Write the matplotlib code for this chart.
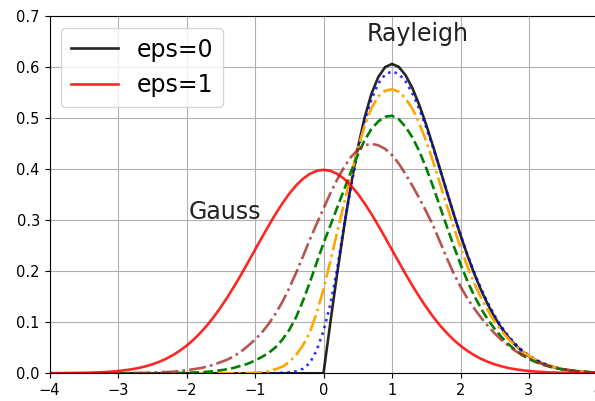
import matplotlib
matplotlib.use('Agg')
import numpy as np
import matplotlib.pyplot as plt

# sample positions along x (step 0.1)
x = np.linspace(-4, 4, 81)

# values
# Rayleigh (eps=0): zero for x<0, values for x = 0.0 .. 4.0
rayleigh = [0.0] * 40 + [
    0.0, 0.0995, 0.196, 0.2868, 0.3692, 0.4412, 0.5012, 0.5479, 0.5809, 0.6003,
    0.6065, 0.6007, 0.5841, 0.5585, 0.5254, 0.487, 0.4448, 0.4007, 0.3562, 0.3125,
    0.2707, 0.2316, 0.1956, 0.1633, 0.1347, 0.1098, 0.0885, 0.0705, 0.0555, 0.0433,
    0.0333, 0.0254, 0.0191, 0.0143, 0.0105, 0.0077, 0.0055, 0.0039, 0.0028, 0.0019,
    0.0013]

# Gauss (eps=1): symmetric, read for x = 0.0 .. 4.0
gauss_half = [
    0.3989, 0.397, 0.391, 0.3814, 0.3683, 0.3521, 0.3332, 0.3123, 0.2897, 0.2661,
    0.242, 0.2179, 0.1942, 0.1714, 0.1497, 0.1295, 0.1109, 0.094, 0.079, 0.0656,
    0.054, 0.044, 0.0355, 0.0283, 0.0224, 0.0175, 0.0136, 0.0104, 0.0079, 0.006,
    0.0044, 0.0033, 0.0024, 0.0017, 0.0012, 0.0009, 0.0006, 0.0004, 0.0003, 0.0002,
    0.0001]
gauss = gauss_half[:0:-1] + gauss_half

# blue dotted, x = -0.6 .. 4.0
blue = [0.0] * 34 + [
    0.001, 0.002, 0.004, 0.009, 0.02, 0.045,
    0.083, 0.135, 0.205, 0.29, 0.365, 0.435, 0.492, 0.537, 0.568, 0.586,
    0.592, 0.587, 0.572, 0.548, 0.518, 0.482, 0.442, 0.4, 0.356, 0.313,
    0.272, 0.233, 0.198, 0.166, 0.138, 0.113, 0.091, 0.073, 0.058, 0.045,
    0.035, 0.027, 0.02, 0.015, 0.011, 0.008, 0.006, 0.004, 0.003, 0.002,
    0.0015]

# orange dash-dot, x = -1.1 .. 4.0
orange = [0.0] * 29 + [
    0.0005, 0.001, 0.002, 0.004, 0.008, 0.013, 0.022, 0.036, 0.055, 0.08, 0.118,
    0.165, 0.22, 0.277, 0.333, 0.388, 0.44, 0.485, 0.52, 0.543, 0.554,
    0.557, 0.552, 0.539, 0.518, 0.49, 0.455, 0.415, 0.372, 0.329, 0.287,
    0.247, 0.21, 0.177, 0.148, 0.123, 0.101, 0.083, 0.067, 0.054, 0.043,
    0.034, 0.026, 0.02, 0.015, 0.011, 0.008, 0.006, 0.004, 0.003, 0.002,
    0.0015]

# green dashed, x = -2.2 .. 4.0
green = [0.0] * 18 + [
    0.0005, 0.0007, 0.001, 0.0015, 0.002, 0.003, 0.004, 0.006, 0.008, 0.011,
    0.015, 0.019, 0.025, 0.032, 0.04, 0.051, 0.066, 0.085, 0.11, 0.142, 0.178, 0.217,
    0.255, 0.29, 0.325, 0.36, 0.395, 0.428, 0.457, 0.479, 0.494, 0.503,
    0.505, 0.498, 0.483, 0.462, 0.435, 0.402, 0.366, 0.327, 0.288, 0.25,
    0.214, 0.181, 0.152, 0.127, 0.105, 0.087, 0.071, 0.057, 0.046, 0.036,
    0.028, 0.022, 0.017, 0.013, 0.01, 0.007, 0.005, 0.004, 0.003, 0.002,
    0.001]

# brown dash-dot, x = -2.9 .. 4.0
brown = [0.0] * 11 + [
    0.0003, 0.0005, 0.0007, 0.001, 0.0015, 0.002, 0.0025, 0.003, 0.0045,
    0.006, 0.008, 0.01, 0.013, 0.017, 0.022, 0.027, 0.034, 0.043, 0.054,
    0.066, 0.08, 0.097, 0.117, 0.14, 0.167, 0.197, 0.229, 0.262, 0.293,
    0.323, 0.353, 0.38, 0.404, 0.424, 0.438, 0.447, 0.45, 0.447, 0.44,
    0.428, 0.411, 0.39, 0.367, 0.343, 0.317, 0.29, 0.258, 0.226, 0.196,
    0.17, 0.147, 0.127, 0.109, 0.093, 0.078, 0.065, 0.054, 0.044, 0.036,
    0.029, 0.023, 0.018, 0.014, 0.011, 0.008, 0.006, 0.004, 0.003, 0.002,
    0.0015]

fig = plt.figure(figsize=(5.95, 4.01), dpi=100)
ax = fig.add_axes([0.0832, 0.0691, 0.921, 0.8903])

ax.plot(x, rayleigh, color='k', alpha=0.85, lw=1.9, label='eps=0')
ax.plot(x, blue, color='b', ls=':', lw=1.9, alpha=0.8)
ax.plot(x, orange, color='orange', ls='-.', lw=1.9)
ax.plot(x, green, color='g', ls='--', lw=1.9)
ax.plot(x, brown, color='brown', ls='-.', lw=1.9, alpha=0.8)
ax.plot(x, gauss, color='r', alpha=0.85, lw=1.9, label='eps=1')

ax.text(0.63, 0.652, 'Rayleigh', fontsize=17, color='#222222')
ax.text(-1.97, 0.302, 'Gauss', fontsize=17, color='#222222')

ax.set_xlim(-4, 4)
ax.set_ylim(0, 0.7)
ax.tick_params(labelsize=10.5)
ax.grid(True)
ax.legend(loc='upper left', fontsize=17)

plt.savefig('out.png')
